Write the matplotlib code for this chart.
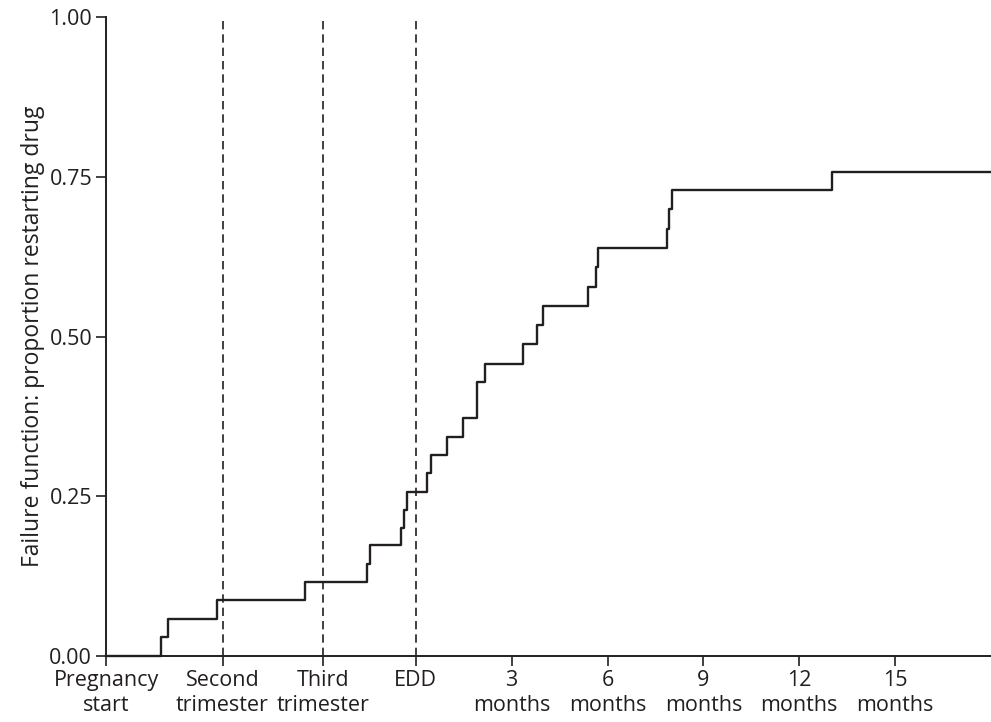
import matplotlib
matplotlib.use("Agg")
import matplotlib.pyplot as plt

plt.rcParams['font.family'] = ['Open Sans', 'DejaVu Sans']

# Time axis in weeks relative to the expected date of delivery (EDD = 0)
tick_pos = [-42, -26.2, -12.6, 0, 13, 26, 39, 52, 65]
tick_labels = ["Pregnancy\nstart", "Second\ntrimester", "Third\ntrimester", "EDD",
               "3\nmonths", "6\nmonths", "9\nmonths", "12\nmonths", "15\nmonths"]
vlines = [-26.2, -12.6, 0]

# Kaplan-Meier failure function
event_weeks = [-42, -34.6, -33.6, -26.9, -15.0, -6.6, -6.15, -2.0, -1.6, -1.2,
               1.55, 2.1, 4.3, 6.4, 8.3, 9.4, 14.6, 16.5, 17.2, 23.3, 24.5,
               24.65, 34.1, 34.4, 34.7, 56.5, 78]
failure = [0.0, 0.029, 0.058, 0.087, 0.116, 0.144, 0.173, 0.200, 0.229, 0.257,
           0.286, 0.315, 0.343, 0.372, 0.429, 0.457, 0.488, 0.518, 0.548, 0.578,
           0.609, 0.638, 0.669, 0.699, 0.729, 0.758, 0.758]

ink = "#231f20"

fig = plt.figure(figsize=(9.91, 7.22), dpi=100)
ax = fig.add_axes([0.107, 0.0914, 0.893, 0.885])

ax.step(event_weeks, failure, where="post", color=ink, lw=1.7, clip_on=False)
for v in vlines:
    ax.axvline(v, color=ink, lw=1.2, ls=(0, (5, 3)))

ax.set_xlim(-42, 78)
ax.set_ylim(0, 1)
ax.set_xticks(tick_pos)
ax.set_xticklabels(tick_labels, linespacing=1.25)
ax.set_yticks([0, 0.25, 0.5, 0.75, 1.0])
ax.set_yticklabels(["0.00", "0.25", "0.50", "0.75", "1.00"])
ax.set_ylabel("Failure function: proportion restarting drug", fontsize=16.5,
              color=ink, labelpad=3)

for s in ["top", "right"]:
    ax.spines[s].set_visible(False)
for s in ["left", "bottom"]:
    ax.spines[s].set_linewidth(1.4)
    ax.spines[s].set_color(ink)
ax.tick_params(axis="both", direction="out", length=7, width=1.2, color=ink,
               labelsize=15.5, labelcolor=ink, pad=3)

plt.savefig("out.png", dpi=100)
